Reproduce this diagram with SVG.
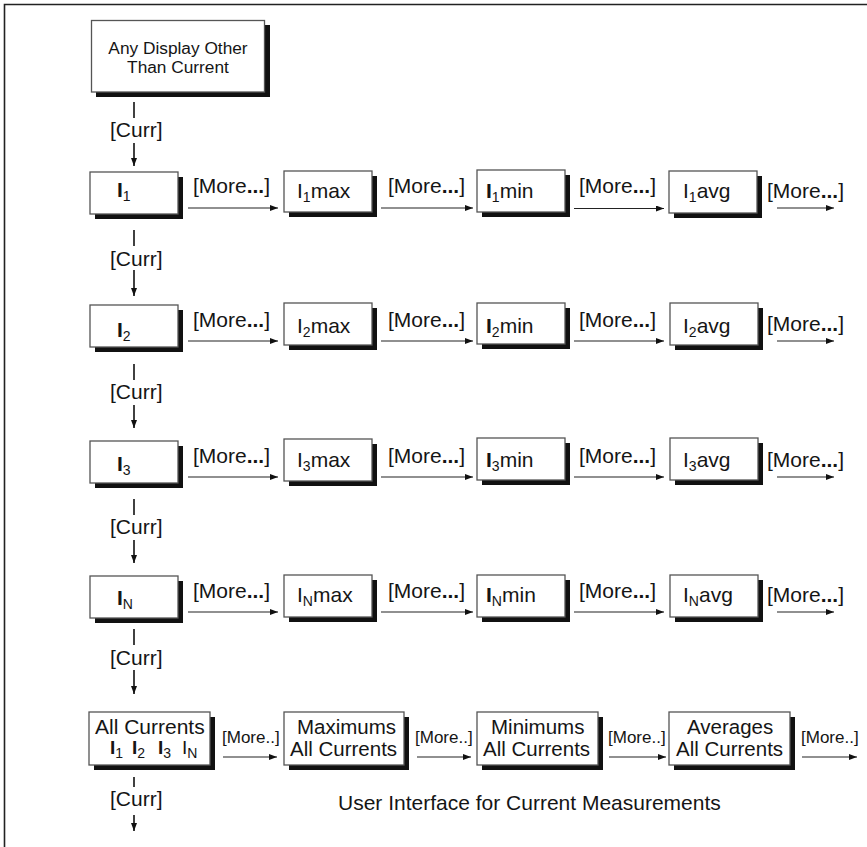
<svg xmlns="http://www.w3.org/2000/svg" width="867" height="847" viewBox="0 0 867 847">
<style>
.sh{fill:#111}
.bx{fill:#fff;stroke:#555;stroke-width:1.3}
.t{font-family:"Liberation Sans",Arial,Helvetica,sans-serif;fill:#151515}
.m{font-size:21px}
.c{font-size:21px}
.l{font-size:21px}
.l2{font-size:20.5px}
.b{font-weight:bold}
.s{font-size:14px}
.m2{font-size:17px}
.ln{stroke:#222;stroke-width:1.1;fill:none}
.vl{stroke:#111;stroke-width:1.6;fill:none}
</style>
<defs>
<marker id="ah" markerUnits="userSpaceOnUse" markerWidth="8" markerHeight="6" refX="8" refY="3" orient="auto">
<path d="M0,0 L8,3 L0,6 z" fill="#111"/>
</marker>
</defs>
<rect width="867" height="847" fill="#fff"/>
<path d="M4.5,847 V4.5 H867" stroke="#222" stroke-width="1.6" fill="none"/>

<g id="connectors">
<line class="vl" x1="134" y1="102" x2="134" y2="118"/>
<line class="vl" x1="134" y1="143" x2="134" y2="166" marker-end="url(#ah)"/>
<text class="t c" x="110" y="137">[Curr]</text>
<line class="vl" x1="134" y1="230" x2="134" y2="246"/>
<line class="vl" x1="134" y1="270" x2="134" y2="296" marker-end="url(#ah)"/>
<text class="t c" x="110" y="266">[Curr]</text>
<line class="vl" x1="134" y1="364" x2="134" y2="380"/>
<line class="vl" x1="134" y1="405" x2="134" y2="428" marker-end="url(#ah)"/>
<text class="t c" x="110" y="399">[Curr]</text>
<line class="vl" x1="134" y1="499" x2="134" y2="515"/>
<line class="vl" x1="134" y1="540" x2="134" y2="563" marker-end="url(#ah)"/>
<text class="t c" x="110" y="534">[Curr]</text>
<line class="vl" x1="134" y1="629" x2="134" y2="645"/>
<line class="vl" x1="134" y1="670" x2="134" y2="694" marker-end="url(#ah)"/>
<text class="t c" x="110" y="665">[Curr]</text>
<line class="vl" x1="134" y1="777" x2="134" y2="787"/>
<line class="vl" x1="134" y1="815" x2="134" y2="831" marker-end="url(#ah)"/>
<text class="t c" x="110" y="806">[Curr]</text>

<line class="ln" x1="188" y1="208" x2="278" y2="208" marker-end="url(#ah)"/>
<line class="ln" x1="381" y1="208" x2="473" y2="208" marker-end="url(#ah)"/>
<line class="ln" x1="574" y1="208.5" x2="664" y2="208.5" marker-end="url(#ah)"/>
<line class="ln" x1="777" y1="208" x2="834" y2="208" marker-end="url(#ah)"/>
<text class="t m" x="193" y="193">[More<tspan class="b">...</tspan>]</text>
<text class="t m" x="388" y="193">[More<tspan class="b">...</tspan>]</text>
<text class="t m" x="579" y="193">[More<tspan class="b">...</tspan>]</text>
<text class="t m" x="767" y="198">[More<tspan class="b">...</tspan>]</text>

<line class="ln" x1="188" y1="341" x2="278" y2="341" marker-end="url(#ah)"/>
<line class="ln" x1="381" y1="341" x2="473" y2="341" marker-end="url(#ah)"/>
<line class="ln" x1="574" y1="341" x2="664" y2="341" marker-end="url(#ah)"/>
<line class="ln" x1="777" y1="341" x2="834" y2="341" marker-end="url(#ah)"/>
<text class="t m" x="193" y="327">[More<tspan class="b">...</tspan>]</text>
<text class="t m" x="388" y="327">[More<tspan class="b">...</tspan>]</text>
<text class="t m" x="579" y="327">[More<tspan class="b">...</tspan>]</text>
<text class="t m" x="767" y="331">[More<tspan class="b">...</tspan>]</text>

<line class="ln" x1="188" y1="477" x2="278" y2="477" marker-end="url(#ah)"/>
<line class="ln" x1="381" y1="477" x2="473" y2="477" marker-end="url(#ah)"/>
<line class="ln" x1="574" y1="477" x2="664" y2="477" marker-end="url(#ah)"/>
<line class="ln" x1="777" y1="477" x2="834" y2="477" marker-end="url(#ah)"/>
<text class="t m" x="193" y="463">[More<tspan class="b">...</tspan>]</text>
<text class="t m" x="388" y="463">[More<tspan class="b">...</tspan>]</text>
<text class="t m" x="579" y="463">[More<tspan class="b">...</tspan>]</text>
<text class="t m" x="767" y="467">[More<tspan class="b">...</tspan>]</text>

<line class="ln" x1="188" y1="612" x2="278" y2="612" marker-end="url(#ah)"/>
<line class="ln" x1="381" y1="612" x2="473" y2="612" marker-end="url(#ah)"/>
<line class="ln" x1="574" y1="612" x2="664" y2="612" marker-end="url(#ah)"/>
<line class="ln" x1="777" y1="612" x2="834" y2="612" marker-end="url(#ah)"/>
<text class="t m" x="193" y="598">[More<tspan class="b">...</tspan>]</text>
<text class="t m" x="388" y="598">[More<tspan class="b">...</tspan>]</text>
<text class="t m" x="579" y="598">[More<tspan class="b">...</tspan>]</text>
<text class="t m" x="767" y="602">[More<tspan class="b">...</tspan>]</text>

<line class="ln" x1="223" y1="757" x2="277" y2="757" marker-end="url(#ah)"/>
<line class="ln" x1="417" y1="757" x2="471" y2="757" marker-end="url(#ah)"/>
<line class="ln" x1="609" y1="757" x2="666" y2="757" marker-end="url(#ah)"/>
<line class="ln" x1="802" y1="757" x2="857" y2="757" marker-end="url(#ah)"/>
<text class="t m2" x="222" y="743">[More..]</text>
<text class="t m2" x="415" y="743">[More..]</text>
<text class="t m2" x="608" y="743">[More..]</text>
<text class="t m2" x="801" y="743">[More..]</text>
</g>

<g id="n-any">
<rect class="sh" x="96" y="25" width="174" height="72"/>
<rect class="bx" x="91.5" y="20.5" width="173" height="71.5"/>
<text class="t" style="font-size:17.3px" text-anchor="middle"><tspan x="178" y="54">Any Display Other</tspan><tspan x="178" y="73">Than Current</tspan></text>
</g>

<g id="n-i1">
<rect class="sh" x="95" y="177" width="88" height="42"/>
<rect class="bx" x="90" y="172" width="88" height="42"/>
<text class="t l" x="117" y="197"><tspan class="b">I</tspan><tspan class="s" dy="4">1</tspan></text>
</g>
<g id="n-i1max">
<rect class="sh" x="289" y="176" width="88" height="41"/>
<rect class="bx" x="284" y="171" width="88" height="41"/>
<text class="t l" x="297" y="198">I<tspan class="s" dy="4">1</tspan><tspan dy="-4">max</tspan></text>
</g>
<g id="n-i1min">
<rect class="sh" x="482" y="175" width="88" height="42"/>
<rect class="bx" x="477" y="170" width="88" height="42"/>
<text class="t l" x="486" y="198"><tspan class="b">I</tspan><tspan class="s" dy="4">1</tspan><tspan dy="-4">min</tspan></text>
</g>
<g id="n-i1avg">
<rect class="sh" x="674" y="176" width="88" height="42"/>
<rect class="bx" x="669" y="171" width="88" height="42"/>
<text class="t l" x="683" y="198">I<tspan class="s" dy="4">1</tspan><tspan dy="-4">avg</tspan></text>
</g>

<g id="n-i2">
<rect class="sh" x="95" y="310" width="88" height="42"/>
<rect class="bx" x="90" y="305" width="88" height="42"/>
<text class="t l" x="117" y="337"><tspan class="b">I</tspan><tspan class="s" dy="4">2</tspan></text>
</g>
<g id="n-i2max">
<rect class="sh" x="289" y="308" width="88" height="42"/>
<rect class="bx" x="284" y="303" width="88" height="42"/>
<text class="t l" x="297" y="333">I<tspan class="s" dy="4">2</tspan><tspan dy="-4">max</tspan></text>
</g>
<g id="n-i2min">
<rect class="sh" x="482" y="308" width="88" height="41"/>
<rect class="bx" x="477" y="303" width="88" height="41"/>
<text class="t l" x="486" y="333"><tspan class="b">I</tspan><tspan class="s" dy="4">2</tspan><tspan dy="-4">min</tspan></text>
</g>
<g id="n-i2avg">
<rect class="sh" x="675" y="308" width="88" height="42"/>
<rect class="bx" x="670" y="303" width="88" height="42"/>
<text class="t l" x="683" y="333">I<tspan class="s" dy="4">2</tspan><tspan dy="-4">avg</tspan></text>
</g>

<g id="n-i3">
<rect class="sh" x="95" y="446" width="88" height="42"/>
<rect class="bx" x="90" y="441" width="88" height="42"/>
<text class="t l" x="117" y="471"><tspan class="b">I</tspan><tspan class="s" dy="4">3</tspan></text>
</g>
<g id="n-i3max">
<rect class="sh" x="289" y="444" width="88" height="42"/>
<rect class="bx" x="284" y="439" width="88" height="42"/>
<text class="t l" x="297" y="467">I<tspan class="s" dy="4">3</tspan><tspan dy="-4">max</tspan></text>
</g>
<g id="n-i3min">
<rect class="sh" x="482" y="443" width="88" height="42"/>
<rect class="bx" x="477" y="438" width="88" height="42"/>
<text class="t l" x="486" y="467"><tspan class="b">I</tspan><tspan class="s" dy="4">3</tspan><tspan dy="-4">min</tspan></text>
</g>
<g id="n-i3avg">
<rect class="sh" x="675" y="443" width="88" height="42"/>
<rect class="bx" x="670" y="438" width="88" height="42"/>
<text class="t l" x="683" y="467">I<tspan class="s" dy="4">3</tspan><tspan dy="-4">avg</tspan></text>
</g>

<g id="n-in">
<rect class="sh" x="95" y="581" width="88" height="42"/>
<rect class="bx" x="90" y="576" width="88" height="42"/>
<text class="t l" x="117" y="605"><tspan class="b">I</tspan><tspan class="s" dy="4">N</tspan></text>
</g>
<g id="n-inmax">
<rect class="sh" x="289" y="580" width="88" height="42"/>
<rect class="bx" x="284" y="575" width="88" height="42"/>
<text class="t l" x="297" y="602">I<tspan class="s" dy="4">N</tspan><tspan dy="-4">max</tspan></text>
</g>
<g id="n-inmin">
<rect class="sh" x="482" y="580" width="88" height="42"/>
<rect class="bx" x="477" y="575" width="88" height="42"/>
<text class="t l" x="486" y="602"><tspan class="b">I</tspan><tspan class="s" dy="4">N</tspan><tspan dy="-4">min</tspan></text>
</g>
<g id="n-inavg">
<rect class="sh" x="675" y="580" width="88" height="42"/>
<rect class="bx" x="670" y="575" width="88" height="42"/>
<text class="t l" x="683" y="602">I<tspan class="s" dy="4">N</tspan><tspan dy="-4">avg</tspan></text>
</g>

<g id="n-all">
<rect class="sh" x="94" y="717" width="121" height="53"/>
<rect class="bx" x="89" y="712" width="121" height="53"/>
<text class="t l"><tspan x="95" y="734">All Currents</tspan><tspan style="font-size:19px"><tspan class="b" x="110" y="754">I</tspan><tspan class="s" dy="4">1</tspan><tspan class="b" x="132" y="754">I</tspan><tspan class="s" dy="4">2</tspan><tspan class="b" x="158" y="754">I</tspan><tspan class="s" dy="4">3</tspan><tspan x="182" y="754">I</tspan><tspan class="s" dy="4">N</tspan></tspan></text>
</g>
<g id="n-max">
<rect class="sh" x="289" y="717" width="120" height="53"/>
<rect class="bx" x="284" y="712" width="120" height="53"/>
<text class="t l2"><tspan x="297" y="733.5">Maximums</tspan><tspan x="290" y="756">All Currents</tspan></text>
</g>
<g id="n-min">
<rect class="sh" x="482" y="717" width="121" height="53"/>
<rect class="bx" x="477" y="712" width="121" height="53"/>
<text class="t l2"><tspan x="491" y="733.5">Minimums</tspan><tspan x="483" y="756">All Currents</tspan></text>
</g>
<g id="n-avg">
<rect class="sh" x="674" y="717" width="121" height="53"/>
<rect class="bx" x="669" y="712" width="121" height="53"/>
<text class="t l2"><tspan x="687" y="733.5">Averages</tspan><tspan x="676" y="756">All Currents</tspan></text>
</g>

<text class="t" style="font-size:21px" x="338" y="810">User Interface for Current Measurements</text>
</svg>
